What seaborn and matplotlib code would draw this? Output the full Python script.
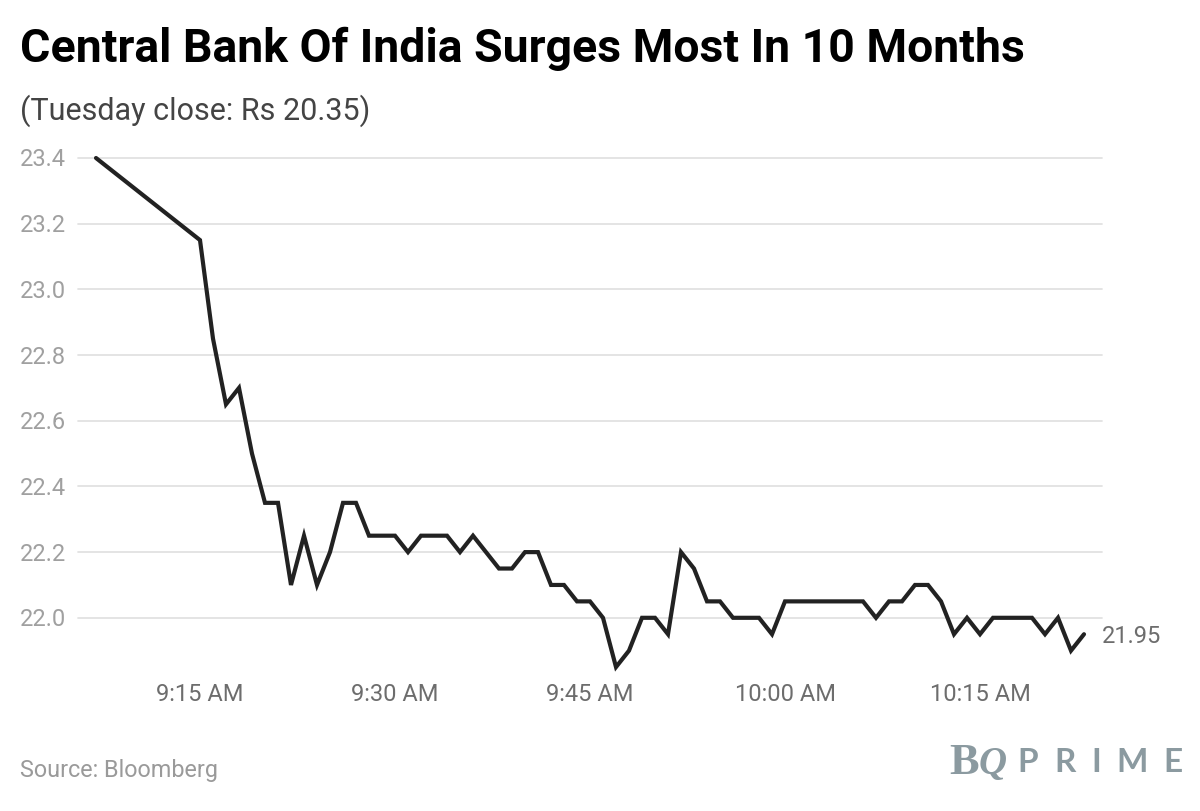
import matplotlib
matplotlib.use("Agg")
import matplotlib.pyplot as plt
import matplotlib.dates as mdates
import pandas as pd
import seaborn as sns

times = ["9:07", "9:15", "9:16", "9:17", "9:18", "9:19", "9:20", "9:21", "9:22", "9:23",
         "9:24", "9:25", "9:26", "9:27", "9:28", "9:29", "9:30", "9:31", "9:32", "9:33",
         "9:34", "9:35", "9:36", "9:37", "9:38", "9:39", "9:40", "9:41", "9:42", "9:43",
         "9:44", "9:45", "9:46", "9:47", "9:48", "9:49", "9:50", "9:51", "9:52", "9:53",
         "9:54", "9:55", "9:56", "9:57", "9:58", "9:59", "10:00", "10:01", "10:02", "10:03",
         "10:04", "10:05", "10:06", "10:07", "10:08", "10:09", "10:10", "10:11", "10:12", "10:13",
         "10:14", "10:15", "10:16", "10:17", "10:18", "10:19", "10:20", "10:21", "10:22", "10:23"]
prices = [23.40, 23.15, 22.85, 22.65, 22.70, 22.50, 22.35, 22.35, 22.10, 22.25,
          22.10, 22.20, 22.35, 22.35, 22.25, 22.25, 22.25, 22.20, 22.25, 22.25,
          22.25, 22.20, 22.25, 22.20, 22.15, 22.15, 22.20, 22.20, 22.10, 22.10,
          22.05, 22.05, 22.00, 21.85, 21.90, 22.00, 22.00, 21.95, 22.20, 22.15,
          22.05, 22.05, 22.00, 22.00, 22.00, 21.95, 22.05, 22.05, 22.05, 22.05,
          22.05, 22.05, 22.05, 22.00, 22.05, 22.05, 22.10, 22.10, 22.05, 21.95,
          22.00, 21.95, 22.00, 22.00, 22.00, 22.00, 21.95, 22.00, 21.90, 21.95]
y_ticks = [22.0, 22.2, 22.4, 22.6, 22.8, 23.0, 23.2, 23.4]
x_ticks = ["9:15", "9:30", "9:45", "10:00", "10:15"]
x_labels = ["9:15 AM", "9:30 AM", "9:45 AM", "10:00 AM", "10:15 AM"]

def to_time(values):
    return pd.to_datetime(pd.Series(values), format="%H:%M")

df = pd.DataFrame({"time": to_time(times), "price": prices})

sns.set_theme(style="white")
plt.rcParams["font.family"] = ["Roboto", "DejaVu Sans"]

W, H = 1200, 812
fig = plt.figure(figsize=(W / 100, H / 100), dpi=100)
left, right, top, bottom = 78, 1102, 159, 680
ax = fig.add_axes([left / W, 1 - bottom / H, (right - left) / W, (bottom - top) / H])

sns.lineplot(data=df, x="time", y="price", ax=ax, color="#222222", linewidth=3,
             solid_joinstyle="miter", solid_capstyle="round", errorbar=None, clip_on=False)

# 13 px per minute, 9:15 sits at x=200
first = mdates.date2num(to_time(["9:15"]))[0]
per_px = 1 / (13 * 1440)
ax.set_xlim(first - (200 - left) * per_px, first + (right - 200) * per_px)
px_per_unit = (618.8 - 159) / 1.4
ax.set_ylim(23.4 - (bottom - top) / px_per_unit, 23.4)

sns.despine(ax=ax, left=True, bottom=True, top=True, right=True)
ax.set_xlabel("")
ax.set_ylabel("")
ax.grid(axis="y", color="#e2e2e2", linewidth=1.3, zorder=0)
ax.grid(axis="x", visible=False)
ax.set_axisbelow(True)
ax.set_yticks(y_ticks)
ax.set_yticklabels([])
ax.tick_params(axis="both", length=0)
ax.patch.set_alpha(0)
for line in ax.get_ygridlines():
    line.set_clip_on(False)

ax.set_xticks(mdates.date2num(to_time(x_ticks)))
ax.set_xticklabels(x_labels, fontsize=17, color="#6d6d6d")
ax.tick_params(axis="x", pad=2.5)

for v in y_ticks:
    ax.annotate(f"{v:.1f}", xy=(0, v), xycoords=("figure pixels", "data"),
                xytext=(20, -1), textcoords=("figure pixels", "offset pixels"),
                fontsize=17, color="#a0a0a0", va="center", ha="left", annotation_clip=False)

ax.annotate(f"{prices[-1]:.2f}", xy=(df["time"].iloc[-1], prices[-1]), xytext=(18, -1),
            textcoords="offset pixels", fontsize=17, color="#6d6d6d", va="center", ha="left",
            annotation_clip=False)

def fig_text(x, y, s, **kw):
    fig.text(x / W, 1 - y / H, s, **kw)

fig_text(20, 62, "Central Bank Of India Surges Most In 10 Months", fontsize=33.4, fontweight="bold",
         color="black", va="baseline", ha="left")
fig_text(20, 120, "(Tuesday close: Rs 20.35)", fontsize=22, color="#444444", va="baseline", ha="left")
fig_text(20, 777, "Source: Bloomberg", fontsize=16.8, color="#9a9a9a", va="baseline", ha="left")

# logo as text
logo = "#8b9aa0"
fig_text(949, 774, "B", fontsize=32, color=logo, family="Liberation Serif", fontweight="bold",
         va="baseline", ha="left")
fig_text(979, 774, "Q", fontsize=28, color=logo, family="Liberation Serif", fontweight="bold",
         style="italic", va="baseline", ha="left")
for x, letter in zip([1017, 1054, 1091, 1116, 1163], "PRIME"):
    fig_text(x, 772, letter, fontsize=24, color=logo, fontweight="bold", va="baseline", ha="left",
             family="Lato")

fig.savefig("out.png", dpi=100, facecolor="white")
